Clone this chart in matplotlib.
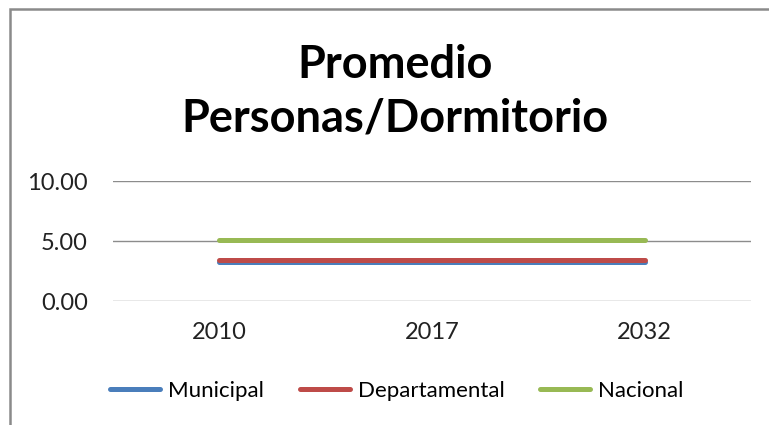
import matplotlib.pyplot as plt
from matplotlib.patches import Rectangle

plt.rcParams['font.family'] = ['Lato', 'DejaVu Sans']

# data
years = ['2010', '2017', '2032']
municipal = [3.25, 3.25, 3.25]
departamental = [3.45, 3.45, 3.45]
nacional = [5.05, 5.05, 5.05]
y_ticks = [0, 5, 10]

fig = plt.figure(figsize=(7.69, 4.25), dpi=100)
ax = fig.add_axes([113 / 769, 1 - 301 / 425, 638 / 769, 120 / 425])

x = range(len(years))
ax.plot(x, municipal, color='#4A7EBB', lw=3.6, solid_capstyle='round', label='Municipal', zorder=3)
ax.plot(x, departamental, color='#BE4B48', lw=3.6, solid_capstyle='round', label='Departamental', zorder=3)
ax.plot(x, nacional, color='#98B954', lw=3.6, solid_capstyle='round', label='Nacional', zorder=3)

ax.set_xlim(-0.5, 2.5)
ax.set_ylim(0, 10)
ax.set_xticks(list(x))
ax.set_xticklabels(years)
ax.set_yticks(y_ticks)
ax.set_yticklabels([f'{v:.2f}' for v in y_ticks])
ax.tick_params(length=0, labelsize=17, colors='#222222')
ax.tick_params(axis='y', pad=18)
ax.tick_params(axis='x', pad=15)
ax.yaxis.grid(True, color='#8c8c8c', lw=1)
ax.set_axisbelow(True)
for s in ax.spines.values():
    s.set_visible(False)

fig.text(395 / 769, 1 - 92 / 425, 'Promedio\nPersonas/Dormitorio', ha='center', va='center',
         fontsize=32.5, fontweight='bold', linespacing=1.33)

fig.legend(loc='center', bbox_to_anchor=(397 / 769, 1 - 391 / 425), ncol=3, frameon=False,
           fontsize=16, handlelength=2.25, handletextpad=0.36, columnspacing=1.6)

# chart border (cropped on right/bottom)
fig.patches.append(Rectangle((10 / 769, -0.1), 1.1, 1 - 9 / 425 + 0.1, transform=fig.transFigure,
                             fill=False, edgecolor='#8a8a8a', lw=1.8))

fig.savefig('out.png', dpi=100)
